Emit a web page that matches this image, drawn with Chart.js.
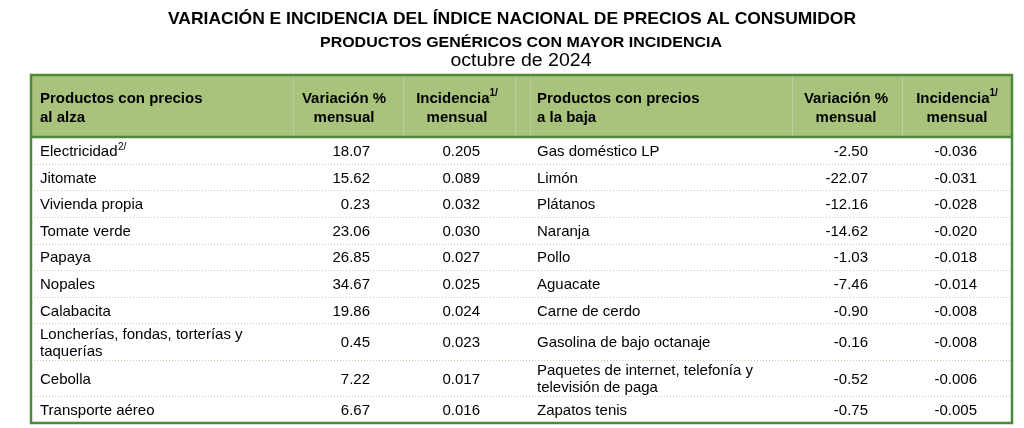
<!DOCTYPE html>
<html>
<head>
<meta charset="utf-8">
<script src="https://cdn.jsdelivr.net/npm/chart.js@4/dist/chart.umd.min.js"></script>
<style>
  html, body { margin: 0; padding: 0; background: #ffffff; }
  #wrap { position: relative; width: 1024px; height: 428px; }
</style>
</head>
<body>
<div id="wrap"><canvas id="c"></canvas></div>
<script>
// ---- Data ----
const titulo = 'VARIACIÓN E INCIDENCIA DEL ÍNDICE NACIONAL DE PRECIOS AL CONSUMIDOR';
const subtitulo = 'PRODUCTOS GENÉRICOS CON MAYOR INCIDENCIA';
const periodo = 'octubre de 2024';

const encabezadoAlza = ['Productos con precios\nal alza', 'Variación %\nmensual', 'Incidencia\nmensual'];
const encabezadoBaja = ['Productos con precios\na la baja', 'Variación %\nmensual', 'Incidencia\nmensual'];
const notaIncidencia = '1/';

const productosAlza = ['Electricidad', 'Jitomate', 'Vivienda propia', 'Tomate verde', 'Papaya', 'Nopales',
  'Calabacita', 'Loncherías, fondas, torterías y\ntaquerías', 'Cebolla', 'Transporte aéreo'];
const notasAlza = ['2/', '', '', '', '', '', '', '', '', ''];
const variacionAlza = [18.07, 15.62, 0.23, 23.06, 26.85, 34.67, 19.86, 0.45, 7.22, 6.67];
const incidenciaAlza = [0.205, 0.089, 0.032, 0.030, 0.027, 0.025, 0.024, 0.023, 0.017, 0.016];

const productosBaja = ['Gas doméstico LP', 'Limón', 'Plátanos', 'Naranja', 'Pollo', 'Aguacate',
  'Carne de cerdo', 'Gasolina de bajo octanaje', 'Paquetes de internet, telefonía y\ntelevisión de paga', 'Zapatos tenis'];
const variacionBaja = [-2.50, -22.07, -12.16, -14.62, -1.03, -7.46, -0.90, -0.16, -0.52, -0.75];
const incidenciaBaja = [-0.036, -0.031, -0.028, -0.020, -0.018, -0.014, -0.008, -0.008, -0.006, -0.005];

// ---- Layout (table units along x, row units along y) ----
const TABLE_W = 981;
const colProdAlza = 9, colVarAlza = 339, colIncAlza = 449;
const colProdBaja = 506, colVarBaja = 837, colIncBaja = 946;
const hdrVarAlza = 313, hdrIncAlza = 426, hdrVarBaja = 815, hdrIncBaja = 926;
const separadores = [262, 372, 484, 499, 761, 871];

const HEADER_UNITS = 2.33;
const lineas = s => s.split('\n').length;
const rowUnits = productosAlza.map((p, i) => Math.max(lineas(p), lineas(productosBaja[i])) > 1 ? 1.37 : 1);
const rowStart = [];
let acc = HEADER_UNITS;
rowUnits.forEach(u => { rowStart.push(acc); acc += u; });
const TOTAL_UNITS = acc;
const rowCenter = rowStart.map((s, i) => s + rowUnits[i] / 2);

const fmt2 = v => v.toFixed(2);
const fmt3 = v => v.toFixed(3);

const columnas = [
  { x: colProdAlza, align: 'left', texts: productosAlza, notes: notasAlza },
  { x: colVarAlza, align: 'right', texts: variacionAlza.map(fmt2) },
  { x: colIncAlza, align: 'right', texts: incidenciaAlza.map(fmt3) },
  { x: colProdBaja, align: 'left', texts: productosBaja },
  { x: colVarBaja, align: 'right', texts: variacionBaja.map(fmt2) },
  { x: colIncBaja, align: 'right', texts: incidenciaBaja.map(fmt3) }
];

const FONT = '"Liberation Sans", Arial, Helvetica, sans-serif';
const NARROW = '"Liberation Sans Narrow", "Arial Narrow", "Liberation Sans", Arial, sans-serif';
const GREEN = '#4a8a38';
const HEADER_BG = '#a9c27c';

function fitText(ctx, text, cx, y, font, targetW) {
  ctx.save();
  ctx.font = font;
  const w = ctx.measureText(text).width;
  const s = targetW / w;
  ctx.translate(cx, y);
  ctx.scale(s, 1);
  ctx.textAlign = 'center';
  ctx.textBaseline = 'alphabetic';
  ctx.fillStyle = '#000';
  ctx.fillText(text, 0, 0);
  ctx.restore();
}

const tablaPlugin = {
  id: 'tabla',
  beforeDatasetsDraw(chart) {
    const { ctx, chartArea: a, scales: { x, y } } = chart;
    ctx.save();
    const hBottom = y.getPixelForValue(HEADER_UNITS);
    ctx.fillStyle = HEADER_BG;
    ctx.fillRect(a.left, a.top, a.right - a.left, hBottom - a.top);
    ctx.strokeStyle = '#b9d09a';
    ctx.lineWidth = 1;
    separadores.forEach(v => {
      const px = Math.round(x.getPixelForValue(v)) + 0.5;
      ctx.beginPath(); ctx.moveTo(px, a.top); ctx.lineTo(px, hBottom); ctx.stroke();
    });
    ctx.strokeStyle = '#c4cfa6';
    ctx.setLineDash([1, 2]);
    rowStart.slice(1).forEach(v => {
      const py = Math.round(y.getPixelForValue(v)) + 0.5;
      ctx.beginPath(); ctx.moveTo(a.left, py); ctx.lineTo(a.right, py); ctx.stroke();
    });
    ctx.setLineDash([]);
    ctx.strokeStyle = GREEN;
    ctx.lineWidth = 2.5;
    ctx.beginPath(); ctx.moveTo(a.left, hBottom); ctx.lineTo(a.right, hBottom); ctx.stroke();
    ctx.strokeRect(a.left, a.top, a.right - a.left, a.bottom - a.top);

    const hc = y.getPixelForValue(HEADER_UNITS / 2) + 2;
    const lineH = 19;
    ctx.fillStyle = '#000';
    ctx.textBaseline = 'middle';
    const drawHeader = (text, xv, align, sup) => {
      const parts = text.split('\n');
      parts.forEach((t, k) => {
        const py = hc + (k - (parts.length - 1) / 2) * lineH;
        const px = x.getPixelForValue(xv);
        ctx.font = 'bold 15px ' + FONT;
        ctx.textAlign = align;
        if (sup && k === 0) {
          const w = ctx.measureText(t).width;
          ctx.font = 'bold 10px ' + FONT;
          const ws = ctx.measureText(sup).width;
          const start = px - (w + ws) / 2;
          ctx.font = 'bold 15px ' + FONT;
          ctx.textAlign = 'left';
          ctx.fillText(t, start, py);
          ctx.font = 'bold 10px ' + FONT;
          ctx.fillText(sup, start + w, py - 5);
        } else {
          ctx.fillText(t, px, py);
        }
      });
    };
    drawHeader(encabezadoAlza[0], colProdAlza, 'left');
    drawHeader(encabezadoAlza[1], hdrVarAlza, 'center');
    drawHeader(encabezadoAlza[2], hdrIncAlza, 'center', notaIncidencia);
    drawHeader(encabezadoBaja[0], colProdBaja, 'left');
    drawHeader(encabezadoBaja[1], hdrVarBaja, 'center');
    drawHeader(encabezadoBaja[2], hdrIncBaja, 'center', notaIncidencia);
    ctx.restore();
  },
  afterDatasetsDraw(chart) {
    const { ctx } = chart;
    ctx.save();
    ctx.fillStyle = '#000';
    ctx.textBaseline = 'middle';
    chart.data.datasets.forEach((ds, di) => {
      const col = columnas[di];
      const meta = chart.getDatasetMeta(di);
      meta.data.forEach((el, i) => {
        const parts = col.texts[i].split('\n');
        parts.forEach((t, k) => {
          const py = el.y + 1.5 + (k - (parts.length - 1) / 2) * 17;
          ctx.font = '15px ' + FONT;
          ctx.textAlign = col.align;
          ctx.fillText(t, el.x, py);
          if (col.notes && col.notes[i] && k === 0) {
            const w = ctx.measureText(t).width;
            ctx.font = '10px ' + FONT;
            ctx.textAlign = 'left';
            ctx.fillText(col.notes[i], el.x + w + 0.5, py - 5);
          }
        });
      });
    });
    ctx.restore();
  },
  afterDraw(chart) {
    const { ctx } = chart;
    fitText(ctx, titulo, 512, 24, 'bold 17px ' + NARROW, 688);
    fitText(ctx, subtitulo, 521, 47, 'bold 15px ' + NARROW, 402);
    fitText(ctx, periodo, 521, 66, '18px ' + NARROW, 141);
  }
};

new Chart(document.getElementById('c'), {
  type: 'scatter',
  data: {
    datasets: columnas.map(col => ({
      data: rowCenter.map(yv => ({ x: col.x, y: yv })),
      pointRadius: 0,
      pointHoverRadius: 0,
      showLine: false
    }))
  },
  options: {
    responsive: true,
    maintainAspectRatio: false,
    animation: false,
    events: [],
    layout: { padding: { left: 31, right: 12, top: 75, bottom: 5 } },
    plugins: { legend: { display: false }, tooltip: { enabled: false }, title: { display: false } },
    scales: {
      x: { type: 'linear', min: 0, max: TABLE_W, display: false },
      y: { type: 'linear', min: 0, max: TOTAL_UNITS, reverse: true, display: false }
    }
  },
  plugins: [tablaPlugin]
});
</script>
</body>
</html>
